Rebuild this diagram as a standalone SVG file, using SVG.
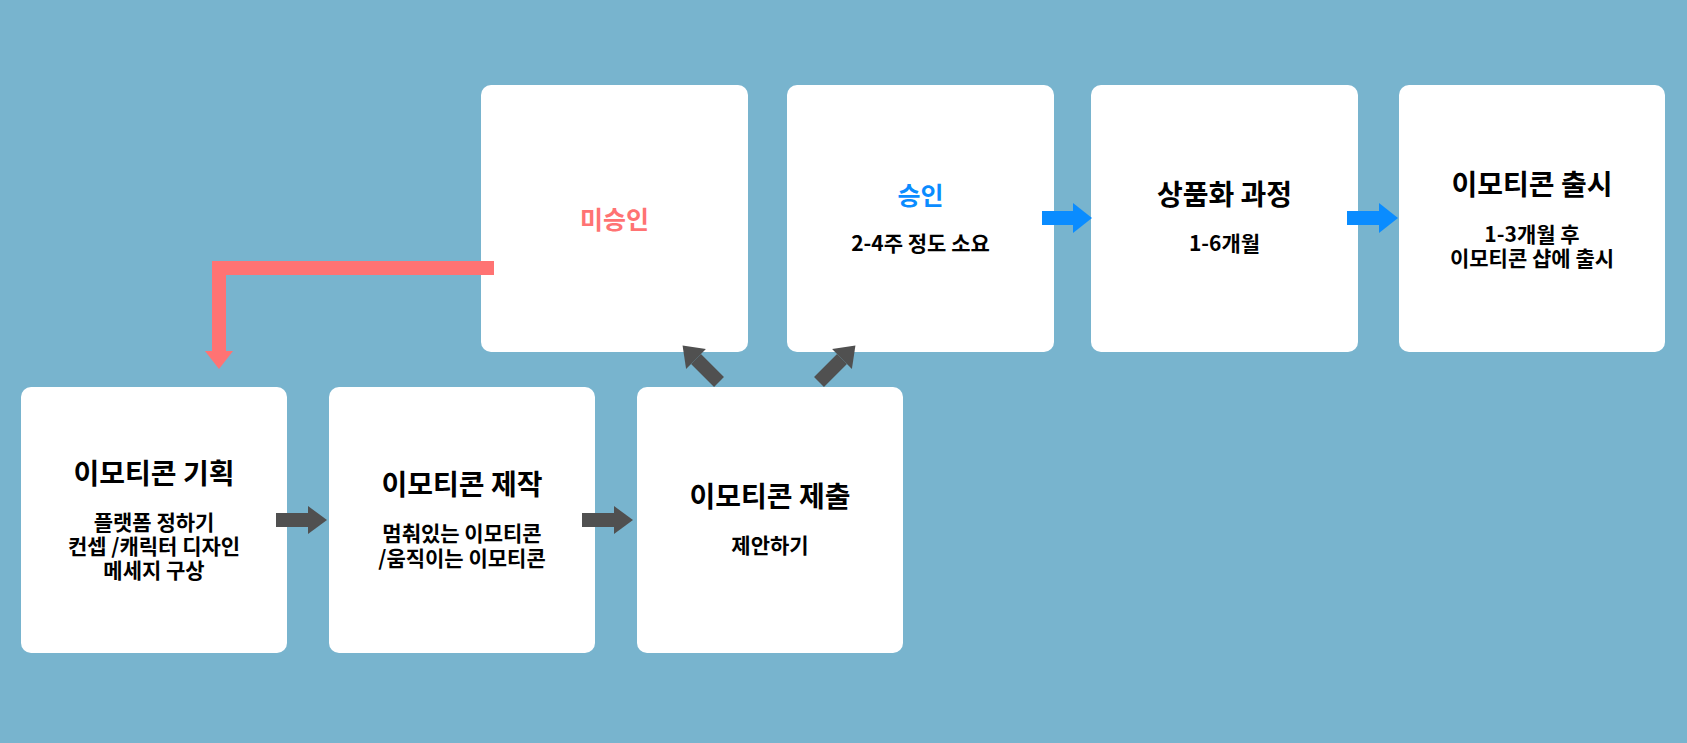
<svg xmlns="http://www.w3.org/2000/svg" width="1687" height="743" viewBox="0 0 1687 743">
<style>
.bg{fill:#78b4ce}
.box{fill:#ffffff}
text{font-family:"Noto Sans CJK KR","Noto Sans",sans-serif;font-weight:700;text-anchor:middle;fill:#000}
.t{font-size:28px}
.s{font-size:21px}
.st{font-size:25px}
.red{fill:#ff7373}
.blue{fill:#0a8cff}
.conn{fill:none;stroke-width:14;stroke-linejoin:miter;stroke-linecap:butt}
.gray{stroke:#505050}
.redl{stroke:#ff7373}
.bluel{stroke:#0a8cff}
</style>
<defs>
<marker id="hg" markerUnits="userSpaceOnUse" viewBox="0 0 19 28" markerWidth="19" markerHeight="28" refX="0" refY="14" orient="auto" overflow="visible"><path d="M0,0 L19,14 L0,28 Z" fill="#505050"/></marker>
<marker id="hr" markerUnits="userSpaceOnUse" viewBox="0 0 18 28" markerWidth="18" markerHeight="28" refX="0" refY="14" orient="auto" overflow="visible"><path d="M0,0 L18,14 L0,28 Z" fill="#ff7373"/></marker>
<marker id="hb" markerUnits="userSpaceOnUse" viewBox="0 0 19 30" markerWidth="19" markerHeight="30" refX="0" refY="15" orient="auto" overflow="visible"><path d="M0,0 L19,15 L0,30 Z" fill="#0a8cff"/></marker>
</defs>
<rect class="bg" x="0" y="0" width="1687" height="743"/>

<g id="node-plan">
<rect class="box" x="21" y="387" width="266" height="266" rx="10"/>
<text class="t" x="154" y="484">이모티콘 기획</text>
<text class="s" x="154" y="530">플랫폼 정하기</text>
<text class="s" x="154" y="554">컨셉 /캐릭터 디자인</text>
<text class="s" x="154" y="578">메세지 구상</text>
</g>

<g id="node-make">
<rect class="box" x="329" y="387" width="266" height="266" rx="10"/>
<text class="t" x="462" y="495">이모티콘 제작</text>
<text class="s" x="462" y="541">멈춰있는 이모티콘</text>
<text class="s" x="462" y="566">/움직이는 이모티콘</text>
</g>

<g id="node-submit">
<rect class="box" x="637" y="387" width="266" height="266" rx="10"/>
<text class="t" x="770" y="507">이모티콘 제출</text>
<text class="s" x="770" y="553">제안하기</text>
</g>

<g id="node-reject">
<rect class="box" x="481" y="85" width="267" height="267" rx="10"/>
<text class="st red" x="614.5" y="229">미승인</text>
</g>

<g id="node-approve">
<rect class="box" x="787" y="85" width="267" height="267" rx="10"/>
<text class="st blue" x="920.5" y="205">승인</text>
<text class="s" x="920.5" y="251">2-4주 정도 소요</text>
</g>

<g id="node-product">
<rect class="box" x="1091" y="85" width="267" height="267" rx="10"/>
<text class="t" x="1224.5" y="205">상품화 과정</text>
<text class="s" x="1224.5" y="251">1-6개월</text>
</g>

<g id="node-release">
<rect class="box" x="1399" y="85" width="266" height="267" rx="10"/>
<text class="t" x="1532" y="195">이모티콘 출시</text>
<text class="s" x="1532" y="242">1-3개월 후</text>
<text class="s" x="1532" y="266">이모티콘 샵에 출시</text>
</g>

<g id="connectors">
<path class="conn gray" d="M276,520 H308" marker-end="url(#hg)"/>
<path class="conn gray" d="M582,520 H614" marker-end="url(#hg)"/>
<path class="conn gray" d="M719,382 L696,359" marker-end="url(#hg)"/>
<path class="conn gray" d="M819,382 L842,359" marker-end="url(#hg)"/>
<path class="conn redl" d="M494,268 H219 V351" marker-end="url(#hr)"/>
<path class="conn bluel" d="M1042,218 H1073" marker-end="url(#hb)"/>
<path class="conn bluel" d="M1347,218 H1379" marker-end="url(#hb)"/>
</g>
</svg>
